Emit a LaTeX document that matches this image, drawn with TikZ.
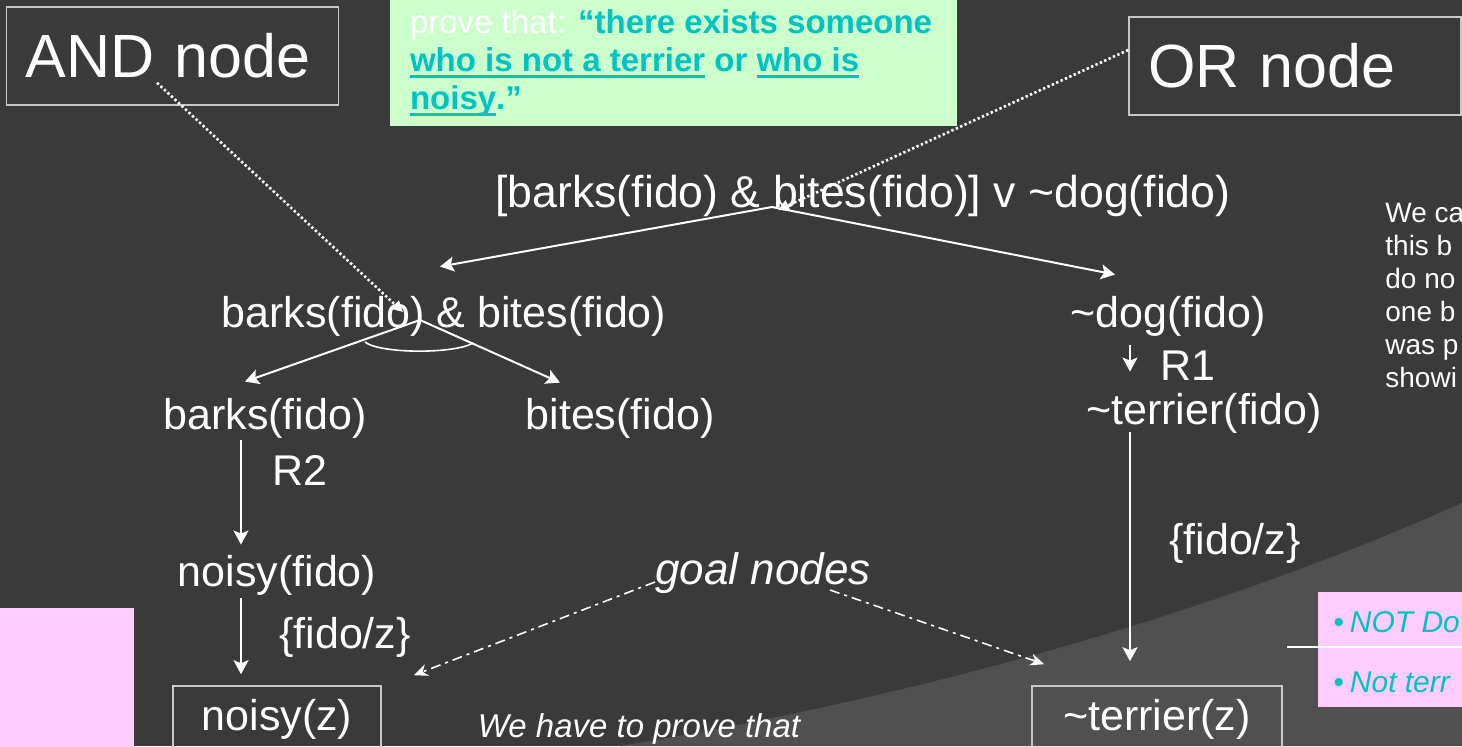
\documentclass[tikz,border=0pt]{standalone}
\usepackage{fontspec}
\setmainfont{Liberation Sans}
\usetikzlibrary{arrows.meta,positioning,calc}
\definecolor{slideDark}{RGB}{58,58,58}
\definecolor{slideLight}{RGB}{80,80,80}
\definecolor{frameGray}{RGB}{200,200,200}
\definecolor{boxGreen}{RGB}{204,255,204}
\definecolor{boxPink}{RGB}{255,204,255}
\definecolor{hintTeal}{RGB}{0,196,196}
\newsavebox\undlbox
\newcommand\undl[1]{\sbox\undlbox{#1}\rlap{\rule[-3pt]{\wd\undlbox}{1.6pt}}\usebox\undlbox}

\begin{document}
\begin{tikzpicture}[x=0.5pt,y=-0.5pt,
    every node/.style={text=white},
    term/.style={font=\fontsize{21.5}{26}\selectfont,inner sep=2pt},
    lblbox/.style={draw=frameGray,line width=0.8pt,font=\fontsize{30.5}{36}\selectfont,
                   text width=147pt,inner xsep=9.5pt,minimum height=49pt,align=left},
    goalbox/.style={term,draw=frameGray,line width=0.8pt,inner sep=0pt,minimum height=33pt},
    hint/.style={font=\fontsize{15}{18}\selectfont\itshape,text=hintTeal,inner sep=0pt,anchor=base west},
    ar/.style={-{Stealth[length=7pt,width=7.5pt,inset=1.5pt]},white,line width=1pt},
    pointer/.style={-{Triangle[length=5.5pt,width=5.5pt]},white,line width=1.3pt,dash pattern=on 1.2pt off 1.2pt},
    goalptr/.style={-{Stealth[length=7pt,width=6pt]},white,line width=0.8pt,
                    dash pattern=on 5pt off 2.5pt on 1.5pt off 2.5pt}]
  \useasboundingbox (0,0) rectangle (1462,746);
  \clip (0,0) rectangle (1462,746);
  % slide background
  \fill[slideDark] (0,0) rectangle (1462,746);
  \fill[slideLight] (620,746) .. controls (900,700) and (1200,620) .. (1462,503) -- (1462,746) -- cycle;
  \fill[boxPink] (0,608) rectangle (134,760);

  % callouts
  \node[lblbox] (andlbl) at (172.5,56) {AND node};
  \node[lblbox] (orlbl) at (1295,66) {OR node};
  \node[fill=boxGreen,minimum width=283.5pt,minimum height=63pt,inner sep=0pt] (claimbox) at (673.5,63) {};
  \node[anchor=north west,align=left,inner sep=0pt,font=\fontsize{16.5}{19}\selectfont] (claim)
    at ($(claimbox.north west)+(20,10)$)
    {prove that: {\color{hintTeal}\bfseries “there exists someone}\\
     {\color{hintTeal}\bfseries \undl{who is not a terrier} or \undl{who is}}\\
     {\color{hintTeal}\bfseries \undl{noisy}.”}};

  % the tree
  \node[term,font=\fontsize{22.3}{26}\selectfont] (disj) at (863,196) {[barks(fido) \& bites(fido)] v \textasciitilde dog(fido)};
  \node[term] (conj) at (444,316) {barks(fido) \& bites(fido)};
  \node[term] (nodog) at (1168,316) {\textasciitilde dog(fido)};
  \node[term] (barks) at (265,418) {barks(fido)};
  \node[term] (bites) at (620,418) {bites(fido)};
  \node[term] (noterr) at (1204,413) {\textasciitilde terrier(fido)};
  \node[term] (rone) at (1188,366) {R1};
  \node[term] (rtwo) at (300,470) {R2};
  \node[term] (noisy) at (277,575) {noisy(fido)};
  \node[term] (subl) at (345,637) {\{fido/z\}};
  \node[term] (subr) at (1235,543) {\{fido/z\}};
  \node[goalbox,minimum width=104pt] (noisyz) at (277,719) {noisy(z)};
  \node[goalbox,minimum width=125pt] (terrz) at (1157,719) {\textasciitilde terrier(z)};
  \node[term,font=\fontsize{22}{26}\selectfont\itshape] (goals) at (763,573) {goal nodes};
  \node[font=\fontsize{16.5}{20}\selectfont\itshape,inner sep=0pt,anchor=base] (mustprove)
    at (639,737) {We have to prove that};
  \node[font=\fontsize{14}{16.5}\selectfont,align=left,inner sep=0pt,anchor=north west] (aside)
    at (1385,203) {We ca\\this b\\do no\\one b\\was p\\showi};

  % pink hint box
  \node[fill=boxPink,minimum width=72pt,minimum height=57.5pt,inner sep=0pt] (hintbox) at (1390,649.5) {};
  \coordinate (sepstart) at (1287,647);
  \draw[white,line width=0.8pt] (sepstart) -- (sepstart -| hintbox.east);
  \node[hint] (hintdog) at (1333,632) {•\hspace{3pt}NOT Do};
  \node[hint] (hintterr) at (1333,692) {•\hspace{3pt}Not terr};

  % OR branch and AND branch
  \draw[ar] ($(disj.center)+(-91,11)$) -- ($(conj.north)+(-4,-25)$);
  \draw[ar] ($(disj.center)+(-91,11)$) -- ($(nodog.north)+(-53,-17)$);
  \draw[ar] ($(conj.center)+(-24,4)$) -- ($(barks.north)+(-20,-12)$);
  \draw[ar] ($(conj.center)+(-24,4)$) -- ($(bites.north)+(-60,-11)$);
  \draw[white,line width=0.8pt] ($(conj.center)+(-79,26)$) .. controls ($(conj.center)+(-64,38)$)
    and ($(conj.center)+(11,38)$) .. ($(conj.center)+(29,27)$);
  \draw[ar] ($(barks.south)+(-24,-2)$) -- ($(noisy.north)+(-36,-6)$);
  \draw[ar] ($(noisy.south)+(-36,-1)$) -- ($(noisyz.north)+(-36,-11)$);
  \draw[ar] ($(nodog.south)+(-38,5)$) -- ($(noterr.north)+(-74,-17)$);
  \draw[ar] ($(noterr.south)+(-74,-5)$) -- ($(terrz.north)+(-27,-24)$);

  % pointers from the callouts
  \draw[pointer] ($(andlbl.south)+(-15.5,-23)$) -- ($(conj.center)+(-41,-4)$);
  \draw[pointer] ($(orlbl.west)+(0,-16)$) -- ($(disj.center)+(-85,14)$);
  \draw[goalptr] ($(goals.center)+(-108,9)$) -- ($(noisyz.north east)+(32,-10)$);
  \draw[goalptr] ($(goals.center)+(67,17)$) -- ($(terrz.north west)+(13,-21)$);
\end{tikzpicture}
\end{document}
